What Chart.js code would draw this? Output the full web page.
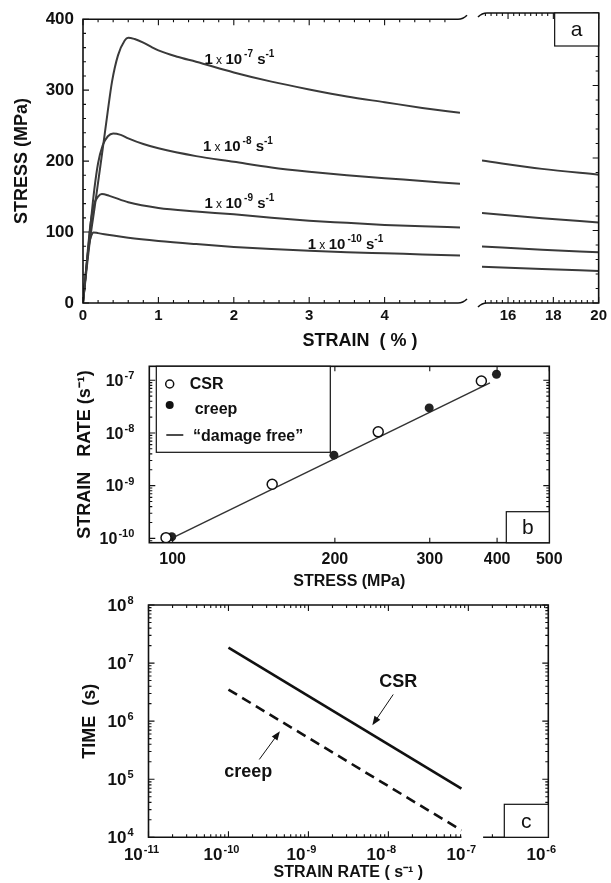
<!DOCTYPE html>
<html><head><meta charset="utf-8">
<script src="https://cdn.jsdelivr.net/npm/chart.js@4.4.1/dist/chart.umd.min.js"></script>
<style>
html,body{margin:0;padding:0;background:#fff;overflow:hidden;}
#wrap{position:relative;width:611px;height:883px;background:#fff;}
canvas{position:absolute;}
</style></head><body>
<div id="wrap">
<canvas id="a1" width="470" height="350" style="left:0;top:0;width:470px;height:350px"></canvas>
<canvas id="a2" width="141" height="350" style="left:470px;top:0;width:141px;height:350px"></canvas>
<canvas id="b" width="611" height="240" style="left:0;top:350px;width:611px;height:240px"></canvas>
<canvas id="c" width="611" height="293" style="left:0;top:590px;width:611px;height:293px"></canvas>
</div>
<script>
// ---------------- Panel a data (stress-strain, constant strain rate) ----------------
const aStrain7  = [0, 0.05, 0.1, 0.155, 0.208, 0.265, 0.323, 0.385, 0.464, 0.553, 0.6, 0.685, 0.8, 0.906, 1.0, 1.25, 1.5, 2.0, 2.5, 3.0, 3.5, 4.0, 4.5, 5.0];
const aStress7  = [0, 50, 95, 135, 176, 220, 266, 312, 349, 370, 374, 372, 367, 361, 356, 347, 340, 325, 312, 301, 291, 283, 275, 268];
const aStrain8  = [0, 0.05, 0.1, 0.15, 0.2, 0.26, 0.33, 0.4, 0.5, 0.6, 0.8, 1.0, 1.5, 2.0, 2.5, 3.0, 3.5, 4.0, 4.5, 5.0];
const aStress8  = [0, 55, 110, 160, 197, 222, 235, 239, 237, 232, 224, 218, 207, 199, 191, 185, 180, 176, 172, 168];
const aStrain9  = [0, 0.05, 0.1, 0.15, 0.2, 0.25, 0.35, 0.6, 1.0, 1.5, 2.0, 2.5, 3.0, 3.5, 4.0, 4.5, 5.0];
const aStress9  = [0, 58, 112, 140, 150, 153.5, 151, 142, 134, 129, 125, 120, 116, 113, 110, 108, 106.5];
const aStrain10 = [0, 0.04, 0.08, 0.11, 0.14, 0.2, 0.4, 0.6, 1.0, 1.5, 2.0, 2.5, 3.0, 3.5, 4.0, 4.5, 5.0];
const aStress10 = [0, 45, 82, 95, 99.5, 98.5, 95, 92, 87.5, 83, 79, 76, 73.5, 71.5, 70, 68.5, 67];
const aRightStrain   = [14.85, 17.5, 20];
const aRightStress7  = [196.5, 185, 177];
const aRightStress8  = [124, 117, 111];
const aRightStress9  = [78, 73.5, 70];
const aRightStress10 = [50, 47, 44];
const aRateExps      = ['-7', '-8', '-9', '-10'];
const aLabelStrain   = [1.61, 1.59, 1.61, 2.98];
const aLabelStress   = [344, 222, 142, 84.5];
const aStressTicks      = [0, 100, 200, 300, 400];
const aStrainTicksLeft  = [0, 1, 2, 3, 4];
const aStrainTicksRight = [16, 18, 20];

// ---------------- Panel b data (strain rate vs stress) ----------------
const bCsrStress   = [97.2, 153, 240.7, 374];
const bCsrRate     = [1.03e-10, 1.06e-9, 1.05e-8, 9.7e-8];
const bCreepStress = [99.6, 199.2, 299.3, 399];
const bCreepRate   = [1.07e-10, 3.79e-9, 2.99e-8, 1.3e-7];
const bDamageFreeStress = [99.5, 388];
const bDamageFreeRate   = [1.0e-10, 8.9e-8];
const bStressTicks = [100, 200, 300, 400, 500];
const bRateTicks   = [1e-10, 1e-9, 1e-8, 1e-7];
const bLegend      = ['CSR', 'creep', '\u201Cdamage free\u201D'];

// ---------------- Panel c data (time vs strain rate) ----------------
const cStrainRate = [1e-10, 8.2e-8];
const cCsrTime    = [1.84e7, 6.9e4];
const cCreepTime  = [3.5e6, 1.32e4];
const cRateTicks  = [1e-11, 1e-10, 1e-9, 1e-8, 1e-7, 1e-6];
const cTimeTicks  = [1e4, 1e5, 1e6, 1e7, 1e8];
const cAxisBreak  = [8.2e-8, 1.53e-7];
const cCsrNote    = {x: 1.33e-8, y: 4.77e6, fromX: 1.15e-8, fromY: 2.88e6, toX: 6.3e-9, toY: 8.5e5};
const cCreepNote  = {x: 1.77e-10, y: 1.34e5, fromX: 2.43e-10, fromY: 2.19e5, toX: 4.4e-10, toY: 6.7e5};

// ---------------- helpers ----------------
const FONT = '"Liberation Sans", Arial, Helvetica, sans-serif';
const INK = '#111';
const LINE = '#3a3a3a';
Chart.defaults.font.family = FONT;
Chart.defaults.color = INK;

const zip = (xs, ys) => xs.map((x, i) => ({x: x, y: ys[i]}));
const SUP = {'-':'\u207B','0':'\u2070','1':'\u00B9','2':'\u00B2','3':'\u00B3','4':'\u2074','5':'\u2075','6':'\u2076','7':'\u2077','8':'\u2078','9':'\u2079'};
const sup = s => String(s).split('').map(c => SUP[c]).join('');
const expOf = v => String(Math.round(Math.log10(v)));

function linSteps(min, max, step) { const r = []; for (let i = 0; min + i * step <= max + 1e-9; i++) r.push(+(min + i * step).toFixed(6)); return r; }
function logMinor(e0, e1) { const r = []; for (let e = e0; e < e1; e++) for (let m = 2; m <= 9; m++) r.push(m * Math.pow(10, e)); return r; }

function tickMarks(ctx, chart, axis, values, len, sides, keep) {
  const sc = chart.scales[axis], a = chart.chartArea;
  ctx.beginPath();
  values.forEach(v => {
    if (v < sc.min - 1e-15 || v > sc.max * 1.000001) return;
    if (keep && !keep(v)) return;
    const p = sc.getPixelForValue(v);
    sides.forEach(side => {
      if (side === 'bottom') { ctx.moveTo(p, a.bottom); ctx.lineTo(p, a.bottom - len); }
      if (side === 'top')    { ctx.moveTo(p, a.top);    ctx.lineTo(p, a.top + len); }
      if (side === 'left')   { ctx.moveTo(a.left, p);   ctx.lineTo(a.left + len, p); }
      if (side === 'right')  { ctx.moveTo(a.right, p);  ctx.lineTo(a.right - len, p); }
    });
  });
  ctx.stroke();
}
// "10" with a raised exponent; y is the vertical middle of "10"
function powLabel(ctx, x, y, exp, base, supSize, align) {
  const fb = 'bold ' + base + 'px ' + FONT, fs = 'bold ' + supSize + 'px ' + FONT;
  ctx.font = fb; const wb = ctx.measureText('10').width;
  ctx.font = fs; const ws = ctx.measureText(exp).width;
  const total = wb + 1 + ws;
  const x0 = align === 'right' ? x - total : x - total / 2;
  ctx.textAlign = 'left'; ctx.textBaseline = 'alphabetic';
  const baseY = y + base * 0.36;
  ctx.font = fb; ctx.fillText('10', x0, baseY);
  ctx.font = fs; ctx.fillText(exp, x0 + wb + 1, baseY - base * 0.42);
}
function letterBox(ctx, x, y, w, h, letter) {
  ctx.save();
  ctx.fillStyle = '#fff'; ctx.fillRect(x, y, w, h);
  ctx.strokeStyle = INK; ctx.lineWidth = 1.2; ctx.strokeRect(x, y, w, h);
  ctx.fillStyle = INK; ctx.font = '21px ' + FONT; ctx.textAlign = 'center'; ctx.textBaseline = 'middle';
  ctx.fillText(letter, x + w / 2, y + h / 2 + 1);
  ctx.restore();
}
function richText(ctx, x, yMid, parts) {
  ctx.textAlign = 'left'; ctx.textBaseline = 'alphabetic';
  let cx = x; const base = yMid + 5.5;
  parts.forEach(([t, font, dy]) => { ctx.font = font; ctx.fillText(t, cx, base + dy); cx += ctx.measureText(t).width; });
}
function rateLabelParts(exp) {
  const B = s => 'bold ' + s + 'px ' + FONT;
  return [['1', B(15), 0], [' x ', '12px ' + FONT, 0], ['10', B(15), 0], ['\u2009' + exp, B(10), -7], [' s', B(15), 0], ['-1', B(10), -7]];
}
function arrow(ctx, x1, y1, x2, y2) {
  const ang = Math.atan2(y2 - y1, x2 - x1), L = 9, W = 3.5;
  ctx.beginPath(); ctx.moveTo(x1, y1); ctx.lineTo(x2 - Math.cos(ang) * 6, y2 - Math.sin(ang) * 6); ctx.stroke();
  ctx.beginPath();
  ctx.moveTo(x2, y2);
  ctx.lineTo(x2 - L * Math.cos(ang) + W * Math.sin(ang), y2 - L * Math.sin(ang) - W * Math.cos(ang));
  ctx.lineTo(x2 - L * Math.cos(ang) - W * Math.sin(ang), y2 - L * Math.sin(ang) + W * Math.cos(ang));
  ctx.closePath(); ctx.fill();
}
const hiddenGrid = {display: false, drawTicks: false};
const noBorder = {display: false};
const common = {
  responsive: false, maintainAspectRatio: false, animation: false, events: [],
  plugins: {legend: {display: false}, tooltip: {enabled: false}}
};
const curve = (label, xs, ys) => ({label: label, data: zip(xs, ys), borderColor: LINE, borderWidth: 2, pointRadius: 0, fill: false, cubicInterpolationMode: 'monotone'});

// ---------------- Panel a, left segment ----------------
const decoA1 = {id: 'decoA1', afterDatasetsDraw(chart) {
  const {ctx, chartArea: a} = chart, sx = chart.scales.x, sy = chart.scales.y;
  ctx.save();
  ctx.strokeStyle = INK; ctx.lineWidth = 1.6;
  ctx.beginPath();
  ctx.moveTo(a.right - 2, a.top); ctx.lineTo(a.left, a.top); ctx.lineTo(a.left, a.bottom); ctx.lineTo(a.right - 2, a.bottom);
  ctx.stroke();
  ctx.beginPath(); ctx.moveTo(a.right - 2, a.top); ctx.quadraticCurveTo(a.right + 3, a.top, a.right + 7, a.top - 4); ctx.stroke();
  ctx.beginPath(); ctx.moveTo(a.right - 2, a.bottom); ctx.quadraticCurveTo(a.right + 3, a.bottom, a.right + 7, a.bottom - 4); ctx.stroke();
  ctx.lineWidth = 1.1;
  tickMarks(ctx, chart, 'y', aStressTicks, 6, ['left']);
  tickMarks(ctx, chart, 'y', linSteps(20, 380, 20).filter(v => v % 100), 3, ['left']);
  tickMarks(ctx, chart, 'x', aStrainTicksLeft, 6, ['top', 'bottom']);
  tickMarks(ctx, chart, 'x', linSteps(0.2, 4.8, 0.2).filter(v => Math.abs(v - Math.round(v)) > 1e-6), 3, ['top', 'bottom']);
  ctx.fillStyle = INK;
  aRateExps.forEach((e, i) => richText(ctx, sx.getPixelForValue(aLabelStrain[i]), sy.getPixelForValue(aLabelStress[i]), rateLabelParts(e)));
  ctx.font = 'bold 18px ' + FONT; ctx.textAlign = 'center'; ctx.textBaseline = 'middle';
  ctx.fillText('STRAIN  ( % )', 360, 341);
  ctx.restore();
}};
new Chart(document.getElementById('a1'), {
  type: 'line',
  data: {datasets: [
    curve('1 x 10-7 s-1', aStrain7, aStress7), curve('1 x 10-8 s-1', aStrain8, aStress8),
    curve('1 x 10-9 s-1', aStrain9, aStress9), curve('1 x 10-10 s-1', aStrain10, aStress10)]},
  options: Object.assign({}, common, {
    layout: {padding: {left: 0, top: 13, right: 10, bottom: 0}, autoPadding: false},
    scales: {
      x: {type: 'linear', min: 0, max: 5,
        afterBuildTicks: s => { s.ticks = aStrainTicksLeft.map(v => ({value: v})); },
        afterFit: s => { s.height = 47; },
        grid: hiddenGrid, border: noBorder,
        ticks: {font: {size: 15, weight: 'bold'}, color: INK, padding: 4, maxRotation: 0, autoSkip: false}},
      y: {type: 'linear', min: 0, max: 400,
        afterBuildTicks: s => { s.ticks = aStressTicks.map(v => ({value: v})); },
        afterFit: s => { s.width = 83; },
        grid: hiddenGrid, border: noBorder,
        ticks: {font: {size: 17, weight: 'bold'}, color: INK, padding: 9, autoSkip: false},
        title: {display: true, text: 'STRESS (MPa)', color: INK, font: {size: 18, weight: 'bold'}, padding: {top: 11.5, bottom: 0}}}
    }
  }),
  plugins: [decoA1]
});

// ---------------- Panel a, right segment ----------------
const decoA2 = {id: 'decoA2', afterDatasetsDraw(chart) {
  const {ctx, chartArea: a} = chart;
  ctx.save();
  ctx.strokeStyle = INK; ctx.lineWidth = 1.6;
  ctx.beginPath();
  ctx.moveTo(a.left - 4, a.top + 4); ctx.quadraticCurveTo(a.left, a.top, a.left + 5, a.top);
  ctx.lineTo(a.right, a.top); ctx.lineTo(a.right, a.bottom); ctx.lineTo(a.left + 5, a.bottom);
  ctx.quadraticCurveTo(a.left, a.bottom, a.left - 4, a.bottom + 4);
  ctx.stroke();
  ctx.lineWidth = 1.1;
  tickMarks(ctx, chart, 'y', aStressTicks, 6, ['right']);
  tickMarks(ctx, chart, 'y', linSteps(20, 380, 20).filter(v => v % 100), 3, ['right']);
  tickMarks(ctx, chart, 'x', aStrainTicksRight, 6, ['top', 'bottom']);
  tickMarks(ctx, chart, 'x', linSteps(15, 19.75, 0.25).filter(v => aStrainTicksRight.indexOf(v) < 0), 3, ['top', 'bottom']);
  ctx.restore();
  letterBox(ctx, a.right - 44, a.top, 44, 33, 'a');
}};
new Chart(document.getElementById('a2'), {
  type: 'line',
  data: {datasets: [
    curve('1 x 10-7 s-1 (15-20 %)', aRightStrain, aRightStress7), curve('1 x 10-8 s-1 (15-20 %)', aRightStrain, aRightStress8),
    curve('1 x 10-9 s-1 (15-20 %)', aRightStrain, aRightStress9), curve('1 x 10-10 s-1 (15-20 %)', aRightStrain, aRightStress10)]},
  options: Object.assign({}, common, {
    layout: {padding: {left: 12, top: 13, right: 8.3, bottom: 0}, autoPadding: false},
    scales: {
      x: {type: 'linear', min: 14.85, max: 20,
        afterBuildTicks: s => { s.ticks = aStrainTicksRight.map(v => ({value: v})); },
        afterFit: s => { s.height = 47; },
        grid: hiddenGrid, border: noBorder,
        ticks: {font: {size: 15, weight: 'bold'}, color: INK, padding: 4, maxRotation: 0, autoSkip: false}},
      y: {type: 'linear', min: 0, max: 400, display: false}
    }
  }),
  plugins: [decoA2]
});

// ---------------- Panel b ----------------
const decoB = {id: 'decoB', afterDatasetsDraw(chart) {
  const {ctx, chartArea: a} = chart, sy = chart.scales.y;
  ctx.save();
  ctx.strokeStyle = INK; ctx.lineWidth = 1.6;
  ctx.strokeRect(a.left, a.top, a.right - a.left, a.bottom - a.top);
  ctx.lineWidth = 1.1;
  tickMarks(ctx, chart, 'y', bRateTicks, 6, ['left', 'right']);
  tickMarks(ctx, chart, 'y', logMinor(-11, -6), 3, ['left', 'right']);
  tickMarks(ctx, chart, 'x', bStressTicks, 5, ['top', 'bottom']);
  ctx.fillStyle = INK;
  bRateTicks.forEach(v => powLabel(ctx, a.left - 15, sy.getPixelForValue(v), expOf(v), 16, 11, 'right'));
  // legend
  const lx = a.left + 7, ly = a.top, lw = 174, lh = 86;
  ctx.fillStyle = '#fff'; ctx.fillRect(lx, ly, lw, lh);
  ctx.lineWidth = 1.2; ctx.strokeRect(lx, ly, lw, lh);
  ctx.lineWidth = 1.5;
  ctx.beginPath(); ctx.arc(lx + 13.4, ly + 17.7, 4, 0, Math.PI * 2); ctx.stroke();
  ctx.fillStyle = INK;
  ctx.beginPath(); ctx.arc(lx + 13.4, ly + 38.7, 4, 0, Math.PI * 2); ctx.fill();
  ctx.beginPath(); ctx.moveTo(lx + 10, ly + 68.7); ctx.lineTo(lx + 27, ly + 68.7); ctx.stroke();
  ctx.font = 'bold 16px ' + FONT; ctx.textAlign = 'left'; ctx.textBaseline = 'middle';
  ctx.fillText(bLegend[0], lx + 33.4, ly + 18.2);
  ctx.fillText(bLegend[1], lx + 38.4, ly + 43.7);
  ctx.fillText(bLegend[2], lx + 36.7, ly + 70.4);
  ctx.restore();
  letterBox(ctx, a.right - 43, a.bottom - 31, 43, 31, 'b');
}};
new Chart(document.getElementById('b'), {
  type: 'scatter',
  data: {datasets: [
    {label: bLegend[0], data: zip(bCsrStress, bCsrRate), showLine: false, pointRadius: 5, pointBorderWidth: 1.5, pointBackgroundColor: '#fff', pointBorderColor: INK},
    {label: bLegend[1], data: zip(bCreepStress, bCreepRate), showLine: false, pointRadius: 4.5, pointBorderWidth: 0, pointBackgroundColor: '#222', pointBorderColor: '#222'},
    {label: bLegend[2], data: zip(bDamageFreeStress, bDamageFreeRate), showLine: true, pointRadius: 0, borderColor: '#333', borderWidth: 1.5}
  ]},
  options: Object.assign({}, common, {
    layout: {padding: {left: 0, top: 16.3, right: 61.7, bottom: 0}, autoPadding: false},
    scales: {
      x: {type: 'logarithmic', min: 90.5, max: 500,
        afterBuildTicks: s => { s.ticks = bStressTicks.map(v => ({value: v})); },
        afterFit: s => { s.height = 47.3; },
        grid: hiddenGrid, border: noBorder,
        ticks: {font: {size: 16, weight: 'bold'}, color: INK, padding: 7.7, maxRotation: 0, autoSkip: false, callback: v => String(v)},
        title: {display: true, text: 'STRESS (MPa)', color: INK, font: {size: 16, weight: 'bold'}, padding: {top: 0, bottom: -1.6}}},
      y: {type: 'logarithmic', min: Math.pow(10, -10.083), max: Math.pow(10, -6.735),
        afterBuildTicks: s => { s.ticks = bRateTicks.map(v => ({value: v})); },
        afterFit: s => { s.width = 149.3; },
        grid: hiddenGrid, border: noBorder,
        ticks: {display: false},
        title: {display: true, text: 'STRAIN   RATE (s' + sup('-1') + ')', color: INK, font: {size: 18, weight: 'bold'}, padding: {top: 74.2, bottom: 0}}}
    }
  }),
  plugins: [decoB]
});

// ---------------- Panel c ----------------
const decoC = {id: 'decoC', afterDatasetsDraw(chart) {
  const {ctx, chartArea: a} = chart, sx = chart.scales.x, sy = chart.scales.y;
  const gapL = sx.getPixelForValue(cAxisBreak[0]), gapR = sx.getPixelForValue(cAxisBreak[1]);
  const outside = v => v <= cAxisBreak[0] || v >= cAxisBreak[1];
  ctx.save();
  ctx.strokeStyle = INK; ctx.lineWidth = 1.6;
  ctx.beginPath();
  ctx.moveTo(gapL, a.bottom); ctx.lineTo(a.left, a.bottom); ctx.lineTo(a.left, a.top); ctx.lineTo(a.right, a.top); ctx.lineTo(a.right, a.bottom); ctx.lineTo(gapR, a.bottom);
  ctx.stroke();
  ctx.lineWidth = 1.1;
  tickMarks(ctx, chart, 'y', cTimeTicks, 6, ['left', 'right']);
  tickMarks(ctx, chart, 'y', logMinor(4, 8), 3, ['left', 'right']);
  tickMarks(ctx, chart, 'x', cRateTicks, 6, ['top']);
  tickMarks(ctx, chart, 'x', logMinor(-11, -6), 3, ['top']);
  tickMarks(ctx, chart, 'x', cRateTicks, 6, ['bottom'], outside);
  tickMarks(ctx, chart, 'x', logMinor(-11, -6), 3, ['bottom'], outside);
  ctx.fillStyle = INK;
  cTimeTicks.forEach(v => powLabel(ctx, a.left - 15, sy.getPixelForValue(v), expOf(v), 17, 11, 'right'));
  cRateTicks.forEach(v => powLabel(ctx, sx.getPixelForValue(v) - 7, a.bottom + 17, expOf(v), 17, 11, 'center'));
  // annotations
  ctx.strokeStyle = INK; ctx.lineWidth = 1;
  [cCsrNote, cCreepNote].forEach(n => arrow(ctx, sx.getPixelForValue(n.fromX), sy.getPixelForValue(n.fromY), sx.getPixelForValue(n.toX), sy.getPixelForValue(n.toY)));
  ctx.font = 'bold 18px ' + FONT; ctx.textAlign = 'center'; ctx.textBaseline = 'middle';
  ctx.fillText('CSR', sx.getPixelForValue(cCsrNote.x), sy.getPixelForValue(cCsrNote.y));
  ctx.fillText('creep', sx.getPixelForValue(cCreepNote.x), sy.getPixelForValue(cCreepNote.y));
  ctx.restore();
  letterBox(ctx, a.right - 44, a.bottom - 33, 44, 33, 'c');
}};
new Chart(document.getElementById('c'), {
  type: 'scatter',
  data: {datasets: [
    {label: 'CSR', data: zip(cStrainRate, cCsrTime), showLine: true, pointRadius: 0, borderColor: INK, borderWidth: 2.6},
    {label: 'creep', data: zip(cStrainRate, cCreepTime), showLine: true, pointRadius: 0, borderColor: INK, borderWidth: 2.6, borderDash: [10, 6]}
  ]},
  options: Object.assign({}, common, {
    layout: {padding: {left: 0, top: 15, right: 62.7, bottom: 0}, autoPadding: false},
    scales: {
      x: {type: 'logarithmic', min: 1e-11, max: 1e-6,
        afterBuildTicks: s => { s.ticks = cRateTicks.map(v => ({value: v})); },
        afterFit: s => { s.height = 45.7; },
        grid: hiddenGrid, border: noBorder,
        ticks: {display: false},
        title: {display: true, text: 'STRAIN RATE ( s' + sup('-1') + ' )', color: INK, font: {size: 16, weight: 'bold'}, padding: {top: 0, bottom: 0.4}}},
      y: {type: 'logarithmic', min: 1e4, max: 1e8,
        afterBuildTicks: s => { s.ticks = cTimeTicks.map(v => ({value: v})); },
        afterFit: s => { s.width = 148.5; },
        grid: hiddenGrid, border: noBorder,
        ticks: {display: false},
        title: {display: true, text: 'TIME  (s)', color: INK, font: {size: 18, weight: 'bold'}, padding: {top: 79.2, bottom: 0}}}
    }
  }),
  plugins: [decoC]
});
</script>
</body></html>
